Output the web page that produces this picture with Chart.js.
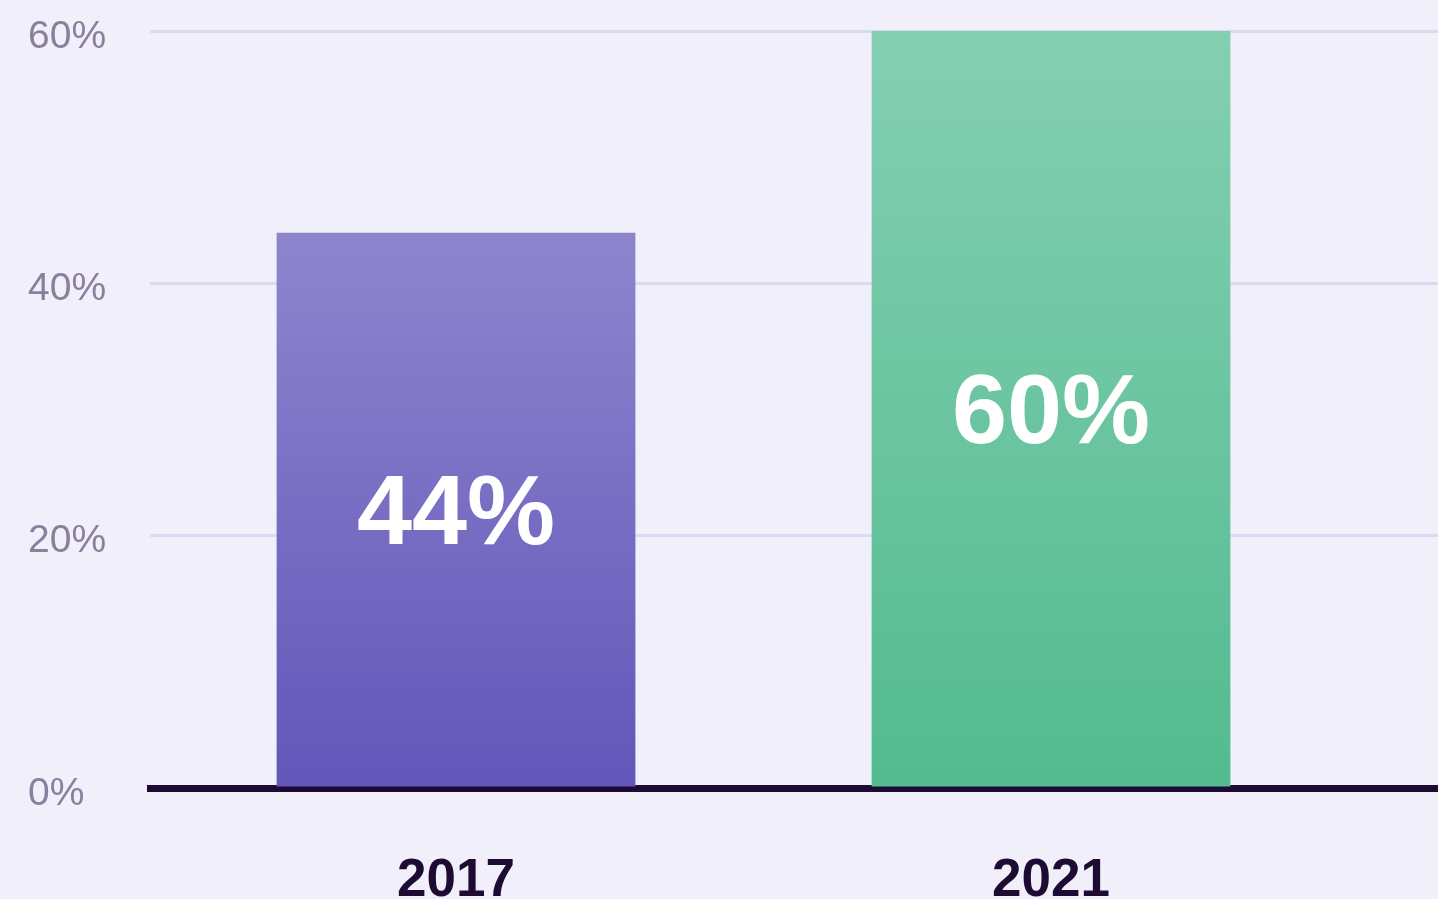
<!DOCTYPE html>
<html>
<head>
<meta charset="utf-8">
<script src="https://cdn.jsdelivr.net/npm/chart.js@4.4.1/dist/chart.umd.min.js"></script>
<style>
  html, body { margin: 0; padding: 0; background: #f1f0fa; overflow: hidden; }
  #wrap { width: 1438px; height: 899px; }
</style>
</head>
<body>
<div id="wrap"><canvas id="chart" width="1438" height="899"></canvas></div>
<script>
// 數據
const years = ['2017', '2021'];
const shares = [44, 60];
const yTicks = [0, 20, 40, 60];

// 漸層顏色（上、下）
const barTop = ['#8d86ce', '#84cfb2'];
const barBottom = ['#6256b9', '#53bb90'];

const ctx = document.getElementById('chart').getContext('2d');

// 年份字型：有窄體就用窄體
function hasFont(name) {
    ctx.font = 'bold 100px monospace';
    const a = ctx.measureText('2017abc').width;
    ctx.font = 'bold 100px "' + name + '", monospace';
    return ctx.measureText('2017abc').width !== a;
}
const narrow = hasFont('Liberation Sans Narrow');
const yearFont = narrow
    ? { family: '"Liberation Sans Narrow", sans-serif', size: 59, weight: 'bold' }
    : { family: '"Liberation Sans", Arial, sans-serif', size: 53, weight: 'bold' };

// 柱內的百分比標籤
const valueLabels = {
    id: 'valueLabels',
    afterDatasetsDraw(chart) {
        const c = chart.ctx;
        const meta = chart.getDatasetMeta(0);
        c.save();
        c.font = 'bold 99px "Liberation Sans", Arial, sans-serif';
        c.fillStyle = '#ffffff';
        c.textAlign = 'center';
        c.textBaseline = 'alphabetic';
        meta.data.forEach((bar, i) => {
            const text = shares[i] + '%';
            const cap = c.measureText('4').actualBoundingBoxAscent;
            const mid = (bar.y + bar.base) / 2;
            c.fillText(text, bar.x, mid + cap / 2);
        });
        c.restore();
    }
};

const chart = new Chart(ctx, {
    type: 'bar',
    data: {
        datasets: [{
            data: shares.map((v, i) => ({ x: i, y: v })),
            backgroundColor: (context) => {
                const i = context.dataIndex;
                const area = context.chart.chartArea;
                if (!area || i === undefined) return barTop[0];
                const yScale = context.chart.scales.y;
                const top = yScale.getPixelForValue(shares[i]);
                const g = context.chart.ctx.createLinearGradient(0, top, 0, area.bottom);
                g.addColorStop(0, barTop[i]);
                g.addColorStop(1, barBottom[i]);
                return g;
            },
            borderWidth: 0,
            categoryPercentage: 1,
            barPercentage: 0.603
        }]
    },
    options: {
        responsive: false,
        animation: false,
        layout: {
            padding: { top: 31, left: 28, right: 0, bottom: 0 }
        },
        plugins: {
            legend: { display: false },
            tooltip: { enabled: false }
        },
        scales: {
            x: {
                type: 'linear',
                offset: false,
                min: -0.5143,
                max: 1.6504,
                z: 1,
                afterBuildTicks: (scale) => {
                    scale.ticks = years.map((y, i) => ({ value: i }));
                },
                afterFit: (scale) => { scale.height = 111; },
                grid: { display: false, drawTicks: false, offset: false },
                border: { display: true, color: '#1d0b33', width: 7 },
                ticks: {
                    autoSkip: false,
                    maxRotation: 0,
                    padding: narrow ? 58 : 62,
                    color: '#1e0b34',
                    font: yearFont,
                    callback: (v) => years[v]
                }
            },
            y: {
                min: 0,
                max: 60,
                afterBuildTicks: (scale) => {
                    scale.ticks = yTicks.map(v => ({ value: v }));
                },
                afterFit: (scale) => { scale.width = 122; },
                grid: { color: '#d9dcf1', lineWidth: 3, drawTicks: false },
                border: { display: false },
                ticks: {
                    crossAlign: 'far',
                    padding: 0,
                    labelOffset: 6,
                    color: '#8a7f9c',
                    font: { family: '"Liberation Sans", Arial, sans-serif', size: 39 },
                    callback: (v) => v + '%'
                }
            }
        }
    },
    plugins: [valueLabels]
});
</script>
</body>
</html>
